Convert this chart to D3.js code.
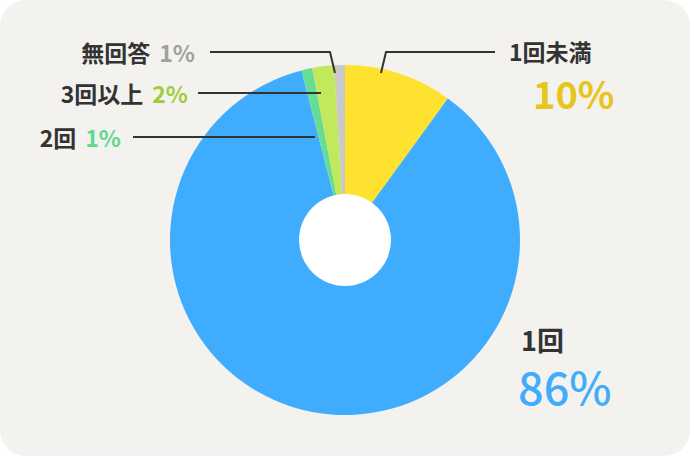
<!DOCTYPE html>
<html>
<head>
<meta charset="utf-8">
<script src="https://cdn.jsdelivr.net/npm/d3@7"></script>
<style>
  html, body { margin: 0; padding: 0; background: #ffffff; }
  svg { display: block; font-family: "Noto Sans CJK JP", "Noto Sans", sans-serif; }
</style>
</head>
<body>
<svg id="chart" width="690" height="456"></svg>
<script>
// データ
var categories = ["1回未満", "1回", "2回", "3回以上", "無回答"];
var values = [10, 86, 1, 2, 1];
var sliceColors = ["#ffe22f", "#3facfe", "#66dc94", "#c1e95b", "#c9c9c9"];
var labelColors = ["#e6c521", "#3facfe", "#5fd990", "#9fcd3a", "#a0a0a0"];

var svg = d3.select("#chart");
var W = 690, H = 456;

// 背景
svg.append("rect")
  .attr("width", W).attr("height", H)
  .attr("rx", 26).attr("ry", 26)
  .attr("fill", "#f3f2ef");

var cx = 345, cy = 240, rOuter = 175, rInner = 46;

var pie = d3.pie().sort(null).value(function(d) { return d; });
var arcs = pie(values);
var arc = d3.arc().innerRadius(0).outerRadius(rOuter);

var g = svg.append("g").attr("transform", "translate(" + cx + "," + cy + ")");

g.selectAll("path.slice")
  .data(arcs)
  .enter()
  .append("path")
  .attr("class", "slice")
  .attr("d", arc)
  .attr("fill", function(d, i) { return sliceColors[i]; });

// 中央の穴
g.append("circle").attr("r", rInner).attr("fill", "#ffffff");

var lineColor = "#333333";
function leader(pts) {
  svg.append("path")
    .attr("d", d3.line()(pts))
    .attr("fill", "none")
    .attr("stroke", lineColor)
    .attr("stroke-width", 2);
}

// 1回未満
leader([[381, 73], [386, 52], [495, 52]]);
svg.append("text").attr("x", 509).attr("y", 61)
  .attr("font-size", 23).attr("font-weight", 700).attr("fill", "#333")
  .text(categories[0]);
svg.append("text").attr("x", 533).attr("y", 109)
  .attr("font-size", 38).attr("font-weight", 700).attr("fill", labelColors[0])
  .text(values[0] + "%");

// 1回
svg.append("text").attr("x", 521).attr("y", 351)
  .attr("font-size", 27).attr("font-weight", 700).attr("fill", "#333")
  .text(categories[1]);
svg.append("text").attr("x", 518).attr("y", 405)
  .attr("font-size", 45).attr("font-weight", 500).attr("fill", labelColors[1])
  .text(values[1] + "%");

// 左側の小さい項目
var leftLabels = [
  { i: 4, y: 52, textEnd: 195, lineStart: 210, pts: [[330, 52], [335, 73]] },
  { i: 3, y: 93, textEnd: 188, lineStart: 198, pts: [[321, 93]] },
  { i: 2, y: 137, textEnd: 121, lineStart: 133, pts: [[315, 137]] }
];

leftLabels.forEach(function(l) {
  var t = svg.append("text")
    .attr("x", l.textEnd).attr("y", l.y + 10)
    .attr("text-anchor", "end")
    .attr("font-size", 23).attr("font-weight", 700);
  t.append("tspan").attr("fill", "#333").text(categories[l.i]);
  t.append("tspan").attr("dx", 9).attr("fill", labelColors[l.i]).text(values[l.i] + "%");
  leader([[l.lineStart, l.y]].concat(l.pts));
});
</script>
</body>
</html>
